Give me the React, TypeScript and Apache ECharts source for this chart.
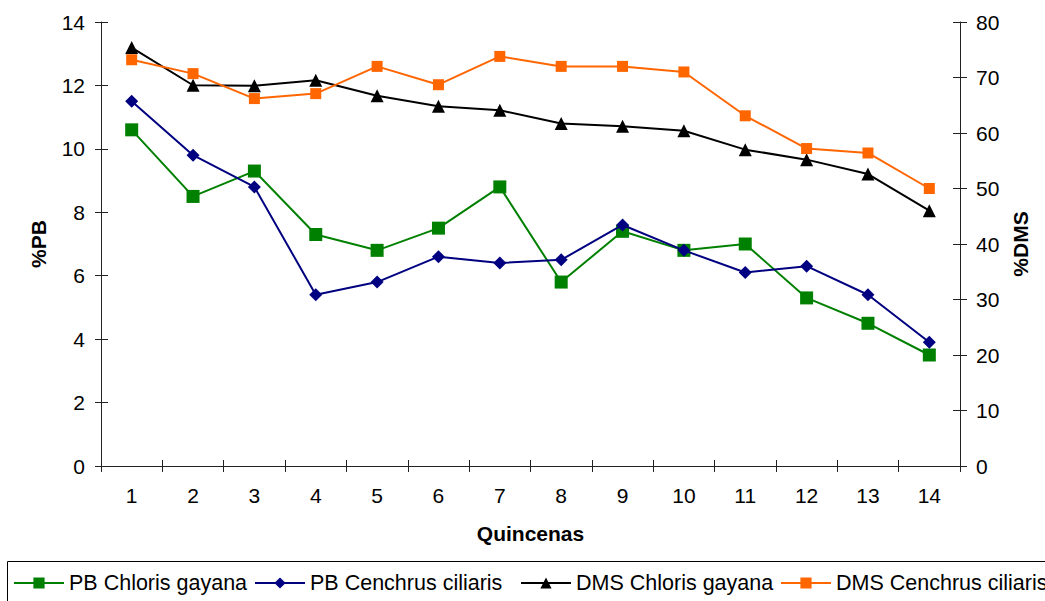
import React, { useEffect, useRef } from "react";
import * as echarts from "echarts";

const categories = ["1", "2", "3", "4", "5", "6", "7", "8", "9", "10", "11", "12", "13", "14"];
const pbChloris = [10.6, 8.5, 9.3, 7.3, 6.8, 7.5, 8.8, 5.8, 7.4, 6.8, 7.0, 5.3, 4.5, 3.5];
const pbCenchrus = [11.5, 9.8, 8.8, 5.4, 5.8, 6.6, 6.4, 6.5, 7.6, 6.8, 6.1, 6.3, 5.4, 3.9];
const dmsChloris = [75.4, 68.6, 68.5, 69.5, 66.7, 64.8, 64.1, 61.7, 61.2, 60.4, 57.0, 55.2, 52.6, 46.0];
const dmsCenchrus = [73.2, 70.7, 66.2, 67.1, 72.0, 68.7, 73.8, 72.0, 72.0, 71.0, 63.1, 57.2, 56.4, 50.0];

const seriesNames = ["PB Chloris gayana", "PB Cenchrus ciliaris", "DMS Chloris gayana", "DMS Cenchrus ciliaris"];

const FONT = "'Liberation Sans', Arial, sans-serif";
const AXIS_COLOR = "#222";

export default function App() {
  const ref = useRef<HTMLDivElement>(null);
  useEffect(() => {
    if (!ref.current) return;
    const chart = echarts.init(ref.current, null, { renderer: "svg" });
    const textBase = { fontFamily: FONT, color: "#000" };
    const legendBase = (name: string, left: number) => ({
      data: [name],
      left,
      top: 572,
      padding: 0,
      itemWidth: 50,
      itemHeight: 14,
      itemGap: 6,
      textStyle: { ...textBase, fontSize: 21.5, lineHeight: 22 },
      selectedMode: false,
    });
    const grid = { left: 101, right: 85, top: 22, bottom: 135, containLabel: false };
    chart.setOption({
      animation: false,
      backgroundColor: "#fff",
      grid,
      legend: [
        legendBase(seriesNames[0], 13),
        legendBase(seriesNames[1], 254),
        legendBase(seriesNames[2], 520),
        legendBase(seriesNames[3], 780),
      ],
      graphic: [
        {
          type: "rect",
          shape: { x: 7.5, y: 561.5, width: 1100, height: 80 },
          style: { fill: "none", stroke: "#000", lineWidth: 1 },
          silent: true,
        },
      ],
      xAxis: [
        {
          type: "category",
          data: categories,
          boundaryGap: true,
          position: "bottom",
          axisLine: { show: true, lineStyle: { color: AXIS_COLOR, width: 1 } },
          axisTick: { show: true, alignWithLabel: false, length: 6, lineStyle: { color: AXIS_COLOR } },
          axisLabel: { ...textBase, fontSize: 21, margin: 19 },
          name: "Quincenas",
          nameLocation: "middle",
          nameGap: 57,
          nameTextStyle: { ...textBase, fontSize: 21, fontWeight: "bold" },
          splitLine: { show: false },
        },
        {
          type: "category",
          data: categories,
          boundaryGap: true,
          position: "bottom",
          axisLine: { show: false },
          axisTick: { show: true, inside: true, alignWithLabel: false, length: 6, lineStyle: { color: AXIS_COLOR } },
          axisLabel: { show: false },
          splitLine: { show: false },
        },
      ],
      yAxis: [
        {
          type: "value",
          position: "left",
          min: 0,
          max: 14,
          interval: 2,
          axisLine: { show: true, lineStyle: { color: AXIS_COLOR, width: 1 } },
          axisTick: { show: true, length: 6, lineStyle: { color: AXIS_COLOR } },
          axisLabel: { ...textBase, fontSize: 21, margin: 16 },
          splitLine: { show: false },
          name: "%PB",
          nameLocation: "middle",
          nameRotate: 90,
          nameGap: 52,
          nameTextStyle: { ...textBase, fontSize: 21, fontWeight: "bold" },
        },
        {
          type: "value",
          position: "right",
          min: 0,
          max: 80,
          interval: 10,
          axisLine: { show: true, lineStyle: { color: AXIS_COLOR, width: 1 } },
          axisTick: { show: true, length: 7, lineStyle: { color: AXIS_COLOR } },
          axisLabel: { ...textBase, fontSize: 21, margin: 16 },
          splitLine: { show: false },
          name: "%DMS",
          nameLocation: "middle",
          nameRotate: 90,
          nameGap: 49,
          nameTextStyle: { ...textBase, fontSize: 21, fontWeight: "bold" },
        },
        {
          type: "value",
          position: "left",
          min: 0,
          max: 14,
          interval: 2,
          axisLine: { show: false },
          axisTick: { show: true, inside: true, length: 7, lineStyle: { color: AXIS_COLOR } },
          axisLabel: { show: false },
          splitLine: { show: false },
        },
        {
          type: "value",
          position: "right",
          min: 0,
          max: 80,
          interval: 10,
          axisLine: { show: false },
          axisTick: { show: true, inside: true, length: 7, lineStyle: { color: AXIS_COLOR } },
          axisLabel: { show: false },
          splitLine: { show: false },
        },
      ],
      series: [
        {
          name: seriesNames[0],
          type: "line",
          yAxisIndex: 0,
          data: pbChloris,
          symbol: "rect",
          symbolSize: 13,
          color: "#008000",
          lineStyle: { color: "#008000", width: 2 },
          itemStyle: { color: "#008000" },
          z: 3,
        },
        {
          name: seriesNames[1],
          type: "line",
          yAxisIndex: 0,
          data: pbCenchrus,
          symbol: "diamond",
          symbolSize: 13,
          color: "#000080",
          lineStyle: { color: "#000080", width: 2 },
          itemStyle: { color: "#000080" },
          z: 4,
        },
        {
          name: seriesNames[2],
          type: "line",
          yAxisIndex: 1,
          data: dmsChloris,
          symbol: "triangle",
          symbolSize: 13,
          color: "#000",
          lineStyle: { color: "#000", width: 2 },
          itemStyle: { color: "#000" },
          z: 5,
        },
        {
          name: seriesNames[3],
          type: "line",
          yAxisIndex: 1,
          data: dmsCenchrus,
          symbol: "rect",
          symbolSize: 11,
          color: "#FF6600",
          lineStyle: { color: "#FF6600", width: 2 },
          itemStyle: { color: "#FF6600" },
          z: 6,
        },
      ],
    });
    return () => chart.dispose();
  }, []);
  return (
    <div
      ref={ref}
      style={{ position: "absolute", left: 0, top: 0, width: 1045, height: 601, overflow: "hidden" }}
    />
  );
}
